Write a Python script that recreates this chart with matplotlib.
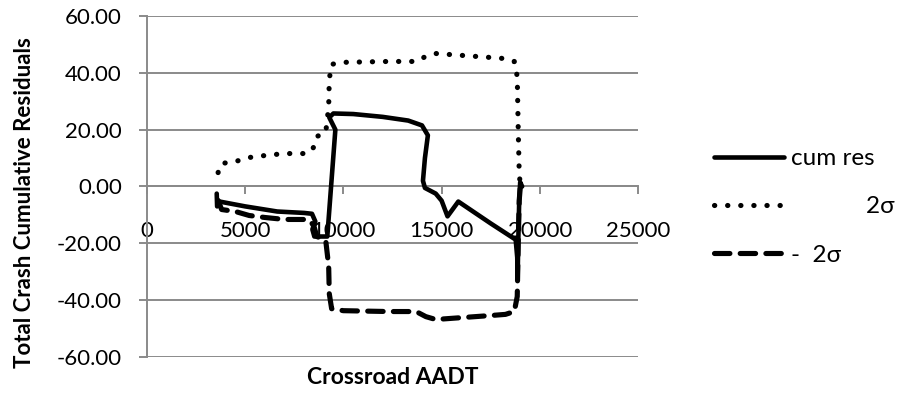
import matplotlib
matplotlib.use("Agg")
import matplotlib.pyplot as plt
from matplotlib.ticker import FormatStrFormatter

plt.rcParams["font.family"] = ["Lato", "DejaVu Sans"]

# cumulative residuals vs crossroad AADT
cum_x = [3550, 3570, 3700, 5000, 6630, 8000, 8400, 8570, 8420, 8520, 9180,
         9590, 9280, 9490, 10500, 12000, 13300, 14000, 14300, 14150, 14050,
         14150, 14700, 15000, 15300, 15850, 17500, 18770, 18850, 18870,
         18900, 18950, 19000, 19100]
cum_y = [-2.5, -7.0, -5.3, -7.0, -8.8, -9.3, -9.6, -12.3, -15.1, -17.6, -17.6,
         20.0, 24.3, 25.7, 25.5, 24.5, 23.2, 21.5, 18.0, 10.0, 2.0,
         -0.5, -2.5, -5.0, -10.5, -5.3, -13.0, -18.7, -25.0, -32.0,
         -20.0, -5.0, 1.5, 0.0]

# +/- 2 sigma bounds
sig_x = [3620, 3800, 4500, 5200, 6000, 7000, 8000, 8300, 8500, 8650, 9100,
         9250, 9280, 9400, 10000, 12300, 13700, 14200, 14700, 16100, 17500,
         18250, 18700, 18850, 18900, 18950, 19000]
sig_up = [4.9, 8.1, 8.8, 10.2, 10.9, 11.6, 11.6, 12.0, 14.0, 17.6, 19.0,
          28.0, 37.7, 43.0, 43.7, 44.0, 44.0, 45.8, 46.8, 46.1, 45.4,
          45.0, 44.0, 38.7, 20.0, 4.9, 0.7]
sig_lo = [-v for v in sig_up]

labels = ["cum res", "            2σ", "-  2σ"]
y_ticks = [-60, -40, -20, 0, 20, 40, 60]
x_ticks = [0, 5000, 10000, 15000, 20000, 25000]

grid_col = "#8a8a8a"

fig = plt.figure(figsize=(9.04, 3.94), dpi=100)
ax = fig.add_axes([0.1626, 0.0939, 0.5432, 0.8655])

ax.plot(cum_x, cum_y, color="black", lw=3.3, solid_joinstyle="round",
        solid_capstyle="round", label=labels[0], zorder=4)
ax.plot(sig_x, sig_up, color="black", lw=3.7, linestyle=(0, (0.05, 2.5)),
        dash_capstyle="round", label=labels[1], zorder=3)
ax.plot(sig_x, sig_lo, color="black", lw=3.7, linestyle=(0, (3.0, 2.0)),
        dash_capstyle="round", label=labels[2], zorder=3)

ax.set_xlim(0, 25000)
ax.set_ylim(-60, 60)
ax.set_xticks(x_ticks)
ax.set_yticks(y_ticks)
ax.yaxis.set_major_formatter(FormatStrFormatter("%.2f"))
ax.yaxis.grid(True, color=grid_col, lw=1.4)
ax.set_axisbelow(True)

for side in ["top", "right"]:
    ax.spines[side].set_visible(False)
ax.spines["bottom"].set_position(("data", 0))
ax.spines["bottom"].set_color(grid_col)
ax.spines["bottom"].set_linewidth(1.4)
ax.spines["left"].set_color(grid_col)
ax.spines["left"].set_linewidth(1.4)

ax.tick_params(axis="x", direction="out", length=6, width=1.4, color=grid_col,
               pad=19, labelsize=16)
ax.tick_params(axis="y", direction="out", length=6, width=1.4, color=grid_col,
               pad=12, labelsize=16)

fig.text(0.027, 0.485, "Total Crash Cumulative Residuals", rotation=90,
         ha="center", va="center", fontsize=16, fontweight="bold")
fig.text(0.4347, 0.043, "Crossroad AADT", ha="center", va="center",
         fontsize=16.5, fontweight="bold")

fig.legend(loc="center left", bbox_to_anchor=(0.776, 0.475), frameon=False,
           fontsize=17.5, handlelength=2.9, labelspacing=1.12, borderpad=0,
           handletextpad=0.3)

fig.savefig("out.png", dpi=100)
